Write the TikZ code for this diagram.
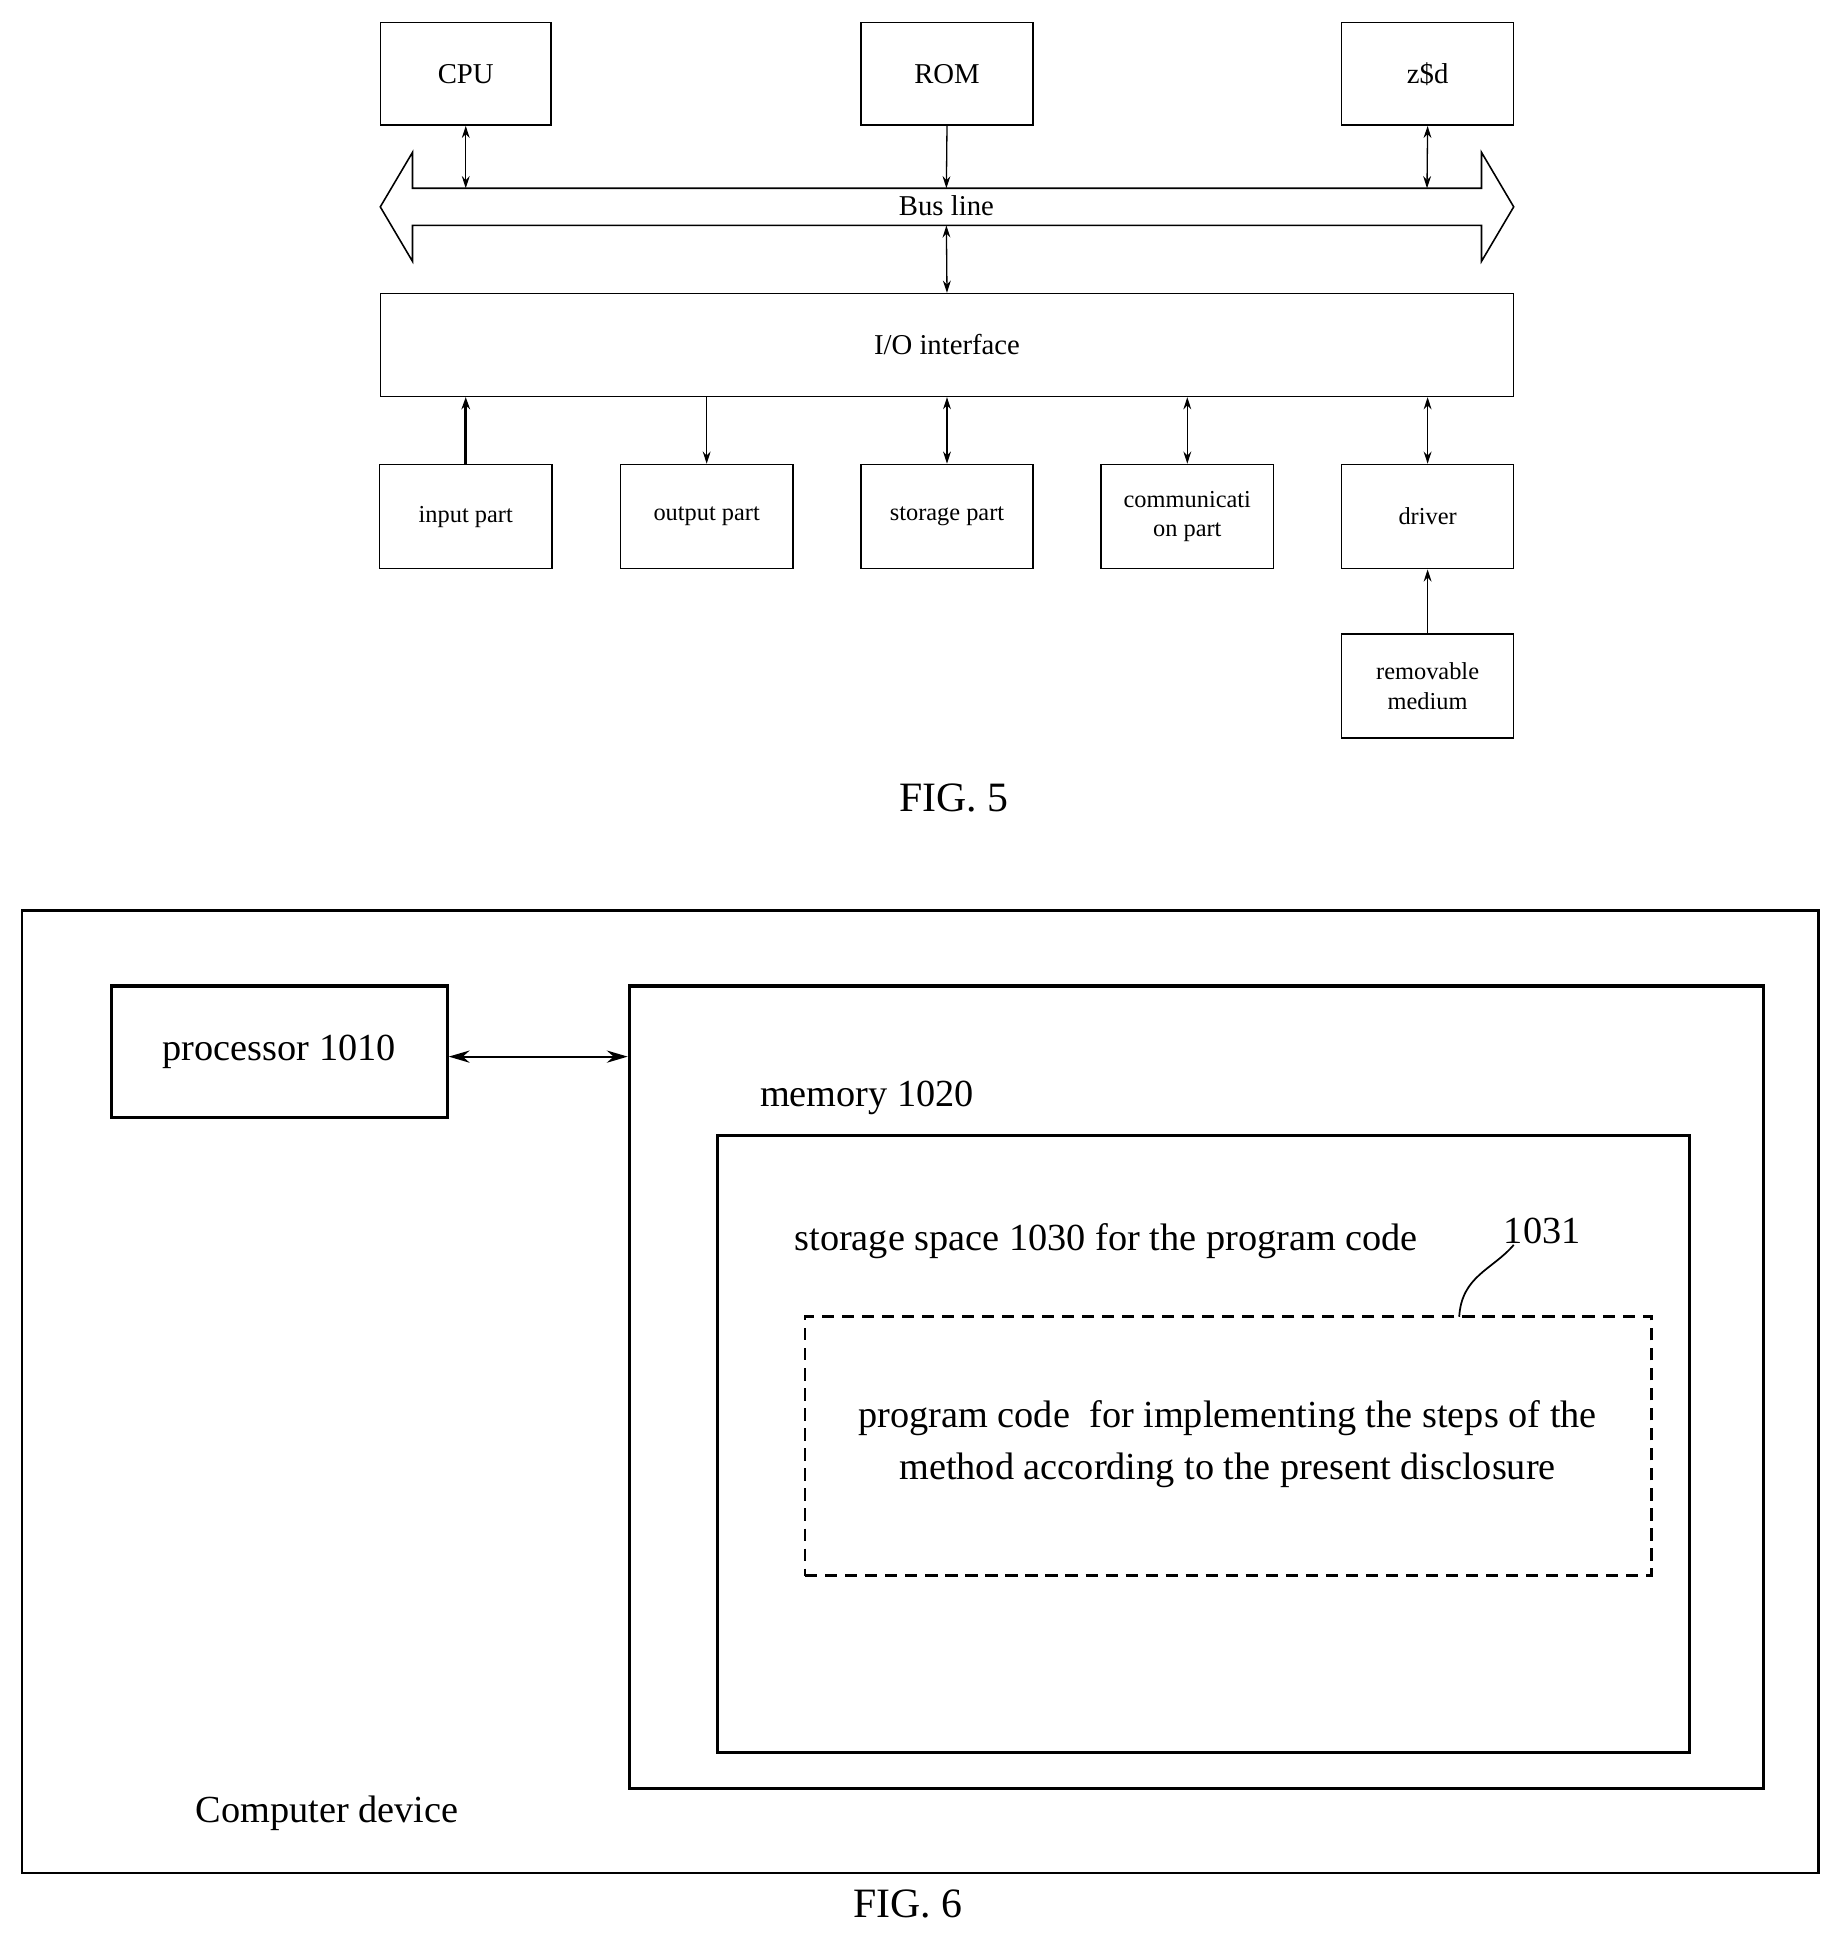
\documentclass[tikz,border=0pt]{standalone}
\usepackage{fontspec}
\setmainfont{Liberation Serif}
\usetikzlibrary{arrows.meta}
\begin{document}
\begin{tikzpicture}[x=0.05cm,y=-0.05cm,
 b5/.style={draw,line width=1.8pt,inner sep=0,font=\fontsize{28}{34}\selectfont,align=center},
 a5/.style={line width=1.5pt,-{Stealth[length=14pt,width=9pt]}},
 d5/.style={line width=1.5pt,{Stealth[length=14pt,width=9pt]}-{Stealth[length=14pt,width=9pt]}},
 b6/.style={draw,line width=3.5pt,inner sep=0},
 t6/.style={font=\fontsize{44}{60}\selectfont,align=center}]
\useasboundingbox (0,0) rectangle (1490,1571);
% FIG 5
\node[b5,font=\fontsize{33}{40}\selectfont] (cpu) at (376,59.5) [minimum width=138*0.05cm,minimum height=83*0.05cm] {CPU};
\node[b5,font=\fontsize{33}{40}\selectfont] (rom) at (764.5,59.5) [minimum width=139*0.05cm,minimum height=83*0.05cm] {ROM};
\node[b5,font=\fontsize{33}{40}\selectfont] (zsd) at (1152.5,59.5) [minimum width=139*0.05cm,minimum height=83*0.05cm] {z\$d};
\draw[line width=1.8pt] (307,167) -- (333,123) -- (333,152) -- (1196,152) -- (1196,123) -- (1222,167) -- (1196,211) -- (1196,182) -- (333,182) -- (333,211) -- cycle;
\node[font=\fontsize{33}{40}\selectfont] (bus) at (764,166) {Bus line};
\coordinate (bt1) at (376,152); \coordinate (bt2) at (764,152); \coordinate (bt3) at (1152,152); \coordinate (bb) at (764,182);
\node[b5,font=\fontsize{33}{40}\selectfont] (io) at (764.5,278.5) [minimum width=915*0.05cm,minimum height=83*0.05cm] {I/O interface};
\draw[d5] (cpu.south) -- (bt1);
\draw[a5] (rom.south) -- (bt2);
\draw[d5] (zsd.south) -- (bt3);
\draw[d5] (bb) -- (io.north);
\foreach \n/\x/\t in {in/376/input part,out/570.5/output part,st/764.5/storage part,com/958.5/communicati\\on part,drv/1152.5/driver}
  \node[b5] (\n) at (\x,417) [minimum width=139*0.05cm,minimum height=84*0.05cm] {\t};
\node[b5] (rem) at (1152.5,554) [minimum width=139*0.05cm,minimum height=84*0.05cm] {removable\\medium};
\draw[line width=3.5pt,-{Stealth[length=14pt,width=10pt]}] (in.north) -- (in.north|-io.south);
\draw[a5] (out.north|-io.south) -- (out.north);
\draw[d5] (st.north) -- (st.north|-io.south);
\draw[d5] (com.north) -- (com.north|-io.south);
\draw[d5] (drv.north) -- (drv.north|-io.south);
\draw[a5] (rem.north) -- (drv.south);
\node[font=\fontsize{48}{56}\selectfont] (f5) at (770,644) {FIG. 5};
% FIG 6
\node[draw,line width=2.5pt,inner sep=0,minimum width=1450*0.05cm,minimum height=777*0.05cm] (dev) at (743,1123.5) {};
\node[b6,t6,minimum width=271*0.05cm,minimum height=106*0.05cm] (proc) at (225.5,849) {processor 1010};
\node[b6,minimum width=916*0.05cm,minimum height=648*0.05cm] (mem) at (966,1120) {};
\draw[line width=2.5pt,{Stealth[length=24pt,width=14pt]}-{Stealth[length=24pt,width=14pt]}] (proc.east|-0,853) -- (mem.west|-0,853);
\node[t6] (meml) at (700,886) {memory 1020};
\node[b6,minimum width=785*0.05cm,minimum height=498*0.05cm] (ss) at (971.5,1166) {};
\node[t6] (ssl) at (893,1002) {storage space 1030 for the program code};
\node[t6] (n1031) at (1245,994) {1031};
\node[draw,line width=3pt,dash pattern=on 14pt off 9pt,inner sep=0,minimum width=683*0.05cm,minimum height=209*0.05cm] (pc) at (991.5,1167.5) {};
\node[t6] (pcl) at (991,1166) {program code\ \ for implementing the steps of the\\method according to the present disclosure};
\draw[line width=2pt] (1178,1063) .. controls (1180,1030) and (1205,1025) .. (1222,1005);
\node[t6] (cd) at (264,1464) {Computer device};
\node[font=\fontsize{48}{56}\selectfont] (f6) at (733,1537) {FIG. 6};
\end{tikzpicture}
\end{document}
